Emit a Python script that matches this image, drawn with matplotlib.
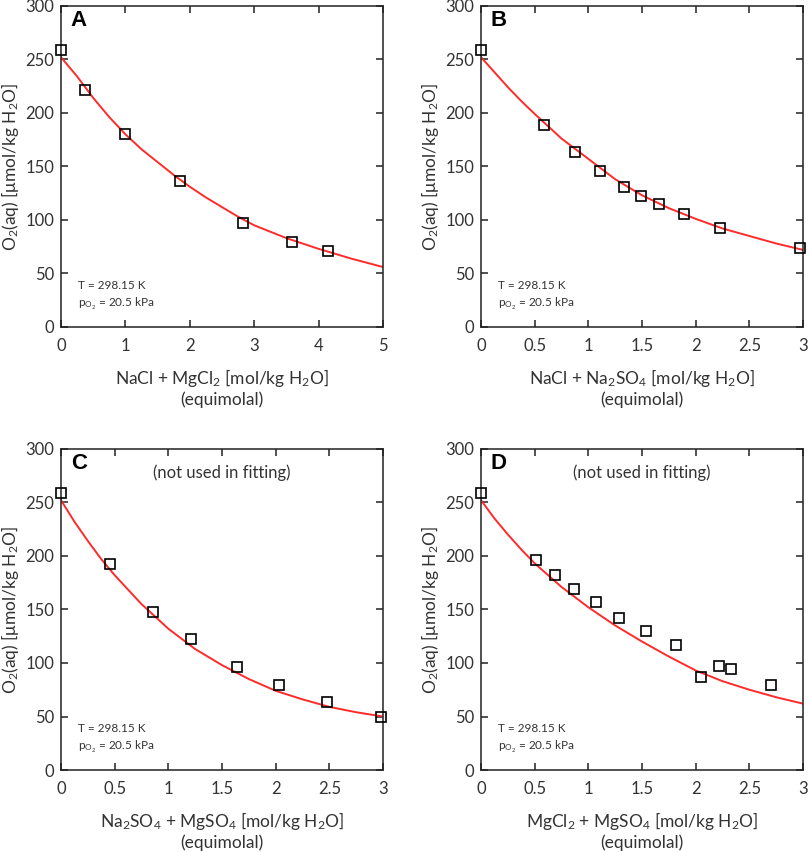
import numpy as np
import matplotlib
matplotlib.use('Agg')
import matplotlib.pyplot as plt

plt.rcParams['font.family'] = ['Lato', 'DejaVu Sans']
plt.rcParams['mathtext.fontset'] = 'custom'
plt.rcParams['mathtext.rm'] = 'Lato'
plt.rcParams['mathtext.it'] = 'Lato:italic'
plt.rcParams['mathtext.bf'] = 'Lato:bold'

txt_col = '#333333'

# Panel A : NaCl + MgCl2
a_x = [0, 0.38, 1.0, 1.85, 2.83, 3.58, 4.15]
a_y = [259, 221, 180, 136, 97, 79, 71]
a_fit_x = [0, 0.125, 0.25, 0.375, 0.5, 0.75, 1, 1.25, 1.5, 1.75, 2, 2.25, 2.5, 2.75, 3, 3.5, 4, 4.5, 5]
a_fit_y = [252, 243, 234, 224, 214, 196, 180, 166, 154, 142, 131, 121, 112, 103, 95, 83, 73, 64, 56]

# Panel B : NaCl + Na2SO4
b_x = [0, 0.59, 0.88, 1.11, 1.33, 1.49, 1.66, 1.89, 2.23, 2.97]
b_y = [259, 189, 163, 146, 131, 122, 115, 106, 92, 74]
b_fit_x = [0, 0.125, 0.25, 0.375, 0.5, 0.75, 1, 1.25, 1.5, 1.75, 2, 2.25, 2.5, 2.75, 3]
b_fit_y = [252, 238, 224, 211, 199, 176, 157, 138, 123, 111, 101, 92, 85, 78, 72]

# Panel C : Na2SO4 + MgSO4 (not used in fitting)
c_x = [0, 0.46, 0.86, 1.21, 1.64, 2.03, 2.48, 2.98]
c_y = [259, 192, 148, 122, 96, 79, 64, 50]
c_fit_x = [0, 0.125, 0.25, 0.375, 0.5, 0.75, 1, 1.25, 1.5, 1.75, 2, 2.25, 2.5, 2.75, 3]
c_fit_y = [252, 232, 214, 197, 182, 155, 132, 113, 98, 85, 74, 66, 59, 54, 50]

# Panel D : MgCl2 + MgSO4 (not used in fitting)
d_x = [0, 0.51, 0.69, 0.87, 1.07, 1.29, 1.54, 1.82, 2.05, 2.22, 2.33, 2.70]
d_y = [259, 196, 182, 169, 157, 142, 130, 117, 87, 97, 94, 79]
d_fit_x = [0, 0.125, 0.25, 0.375, 0.5, 0.75, 1, 1.25, 1.5, 1.75, 2, 2.25, 2.5, 2.75, 3]
d_fit_y = [252, 235, 220, 206, 193, 171, 152, 135, 120, 106, 93, 83, 75, 68, 62]

panels = [
    ('A', a_x, a_y, a_fit_x, a_fit_y, 5, [0, 1, 2, 3, 4, 5], ['0', '1', '2', '3', '4', '5'],
     r'NaCl + MgCl$_2$ [mol/kg H$_2$O]', False),
    ('B', b_x, b_y, b_fit_x, b_fit_y, 3, [0, 0.5, 1, 1.5, 2, 2.5, 3], ['0', '0.5', '1', '1.5', '2', '2.5', '3'],
     r'NaCl + Na$_2$SO$_4$ [mol/kg H$_2$O]', False),
    ('C', c_x, c_y, c_fit_x, c_fit_y, 3, [0, 0.5, 1, 1.5, 2, 2.5, 3], ['0', '0.5', '1', '1.5', '2', '2.5', '3'],
     r'Na$_2$SO$_4$ + MgSO$_4$ [mol/kg H$_2$O]', True),
    ('D', d_x, d_y, d_fit_x, d_fit_y, 3, [0, 0.5, 1, 1.5, 2, 2.5, 3], ['0', '0.5', '1', '1.5', '2', '2.5', '3'],
     r'MgCl$_2$ + MgSO$_4$ [mol/kg H$_2$O]', True),
]

positions = [
    [0.0754, 0.6162, 0.398, 0.377],
    [0.5946, 0.6162, 0.398, 0.377],
    [0.0754, 0.0962, 0.398, 0.377],
    [0.5946, 0.0962, 0.398, 0.377],
]

fig = plt.figure(figsize=(8.09, 8.52), dpi=100)

for (letter, x, y, fx, fy, xmax, xt, xtl, xlab, not_used), pos in zip(panels, positions):
    ax = fig.add_axes(pos)
    ax.plot(fx, fy, color='#ff2a2a', lw=1.4, zorder=2)
    ax.plot(x, y, 's', mfc='none', mec='black', ms=7, mew=1.2, clip_on=False, zorder=3)
    ax.set_xlim(0, xmax)
    ax.set_ylim(0, 300)
    ax.set_xticks(xt)
    ax.set_xticklabels(xtl)
    ax.set_yticks([0, 50, 100, 150, 200, 250, 300])
    ax.tick_params(direction='in', length=5, width=1.1, top=True, right=True,
                   labelsize=12, labelcolor=txt_col, color='#222222')
    ax.tick_params(axis='x', pad=8)
    ax.tick_params(axis='y', pad=5)
    for s in ax.spines.values():
        s.set_linewidth(1.1)
        s.set_color('#222222')
    ax.set_xlabel(xlab + '\n(equimolal)', fontsize=12.5, color=txt_col, labelpad=9, linespacing=1.2)
    ax.set_ylabel(r'O$_2$(aq) [μmol/kg H$_2$O]', fontsize=12.5, color=txt_col, labelpad=3)
    ax.text(0.03, 0.955, letter, transform=ax.transAxes, fontsize=16, fontweight='bold',
            family='Liberation Sans', va='center', ha='left')
    ax.text(0.053, 0.128, 'T = 298.15 K', transform=ax.transAxes, fontsize=8.5,
            color=txt_col, va='center')
    ax.text(0.053, 0.072, r'p$_{\mathrm{O_2}}$ = 20.5 kPa', transform=ax.transAxes, fontsize=8.5,
            color=txt_col, va='center')
    if not_used:
        ax.text(0.5, 0.925, '(not used in fitting)', transform=ax.transAxes, fontsize=12,
                color=txt_col, ha='center', va='center')

fig.savefig('out.png', dpi=100)
